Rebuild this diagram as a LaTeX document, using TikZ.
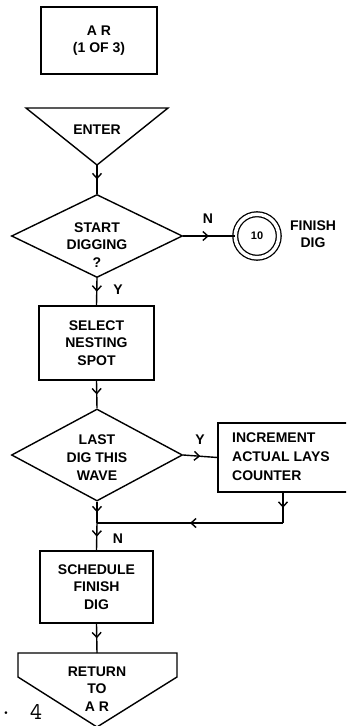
\documentclass[tikz,border=0pt]{standalone}
\usepackage{fontspec}
\usepackage{tikz}
\usetikzlibrary{shapes.geometric,arrows.meta,decorations.markings}
\setmainfont{Liberation Sans}

\tikzset{
  lab/.style={font=\bfseries\fontsize{14}{17.5}\selectfont, align=center, inner sep=0},
  box/.style={draw, line width=1.4pt, inner sep=0},
  dia/.style={draw, diamond, line width=1.4pt, inner sep=0},
  midarr/.style={line width=1.4pt, postaction={decorate},
    decoration={markings, mark=at position 0.5 with {\arrow{Straight Barb[length=5pt,width=9pt,line width=1.4pt]}}}},
}

\begin{document}
\begin{tikzpicture}[x=1pt,y=-1pt]
        \useasboundingbox (0,0) rectangle (346,726);
        \clip (0,0) rectangle (346,726);
        % 标题框
        \node[box, minimum width=116, minimum height=67] (ar) at (99,40.5) {};
        \node[lab] (artxt) at (ar) {A R\\(1 OF 3)};
        % 入口
        \draw[line width=1.4pt, line join=miter] (26,108)--(168,108)--(97,165)--cycle;
        \coordinate (enter) at (97,165);
        \node[lab] (entertxt) at (97,130) {ENTER};
        % 判断 1
        \node[dia, minimum width=171, minimum height=83] (start) at (97,236) {};
        \node[lab] (starttxt) at (97,245) {START\\DIGGING\\?};
        \node[draw, circle, double, double distance=3.5pt, line width=1.3pt,
              minimum size=43.5, inner sep=0] (fin) at (257,236) {};
        \node[lab, font=\bfseries\fontsize{11}{12}\selectfont] (fintxt) at (fin) {10};
        \node[lab] (findig) at (313,234) {FINISH\\DIG};
        \draw[midarr] (enter)--(start.north);
        \draw[midarr] (start.east)--(fin.west);
        \node[lab] (n1) at (208,219) {N};
        % 选择
        \node[box, minimum width=115, minimum height=74] (sel) at (96.5,343) {};
        \node[lab] (seltxt) at (sel) {SELECT\\NESTING\\SPOT};
        \draw[midarr] (start.south)--(sel.north);
        \node[lab] (y1) at (118,290) {Y};
        % 判断 2
        \node[dia, minimum width=171, minimum height=92] (last) at (97,455) {};
        \node[lab, font=\bfseries\fontsize{14}{18}\selectfont] (lasttxt) at (97,458) {LAST\\DIG THIS\\WAVE};
        \draw[midarr] (sel.south)--(last.north);
        % 计数
        \node[box, minimum width=142, minimum height=69] (incr) at (289,457.5) {};
        \node[lab, align=left, anchor=west, font=\bfseries\fontsize{14}{19}\selectfont] (incrtxt) at (232,457) {INCREMENT\\ACTUAL LAYS\\COUNTER};
        \draw[midarr] (last.east)--(incr.west);
        \node[lab] (y2) at (200,440) {Y};
        % 汇合点
        \coordinate (join) at (97,523);
        \coordinate (turn) at (283,523);
        \draw[midarr] (last.south)--(join);
        \draw[midarr] (incr.south -| turn)--(turn);
        \draw[midarr] (turn)--(join);
        % 安排
        \node[box, minimum width=113, minimum height=72] (sched) at (96.5,587) {};
        \node[lab] (schedtxt) at (sched) {SCHEDULE\\FINISH\\DIG};
        \draw[midarr] (join)--(sched.north);
        \node[lab] (n2) at (118,539) {N};
        % 返回
        \draw[line width=1.4pt, line join=miter] (18,653)--(177,653)--(177,677)--(97,727)--(18,677)--cycle;
        \coordinate (ret) at (97,653);
        \node[lab] (rettxt) at (97,689) {RETURN\\TO\\A R};
        \draw[midarr] (sched.south)--(ret);
        % 图号
        \node[inner sep=0, font=\ttfamily\fontsize{24}{24}\selectfont] (figdot) at (6,713) {.};
        \node[inner sep=0, font=\ttfamily\fontsize{24}{24}\selectfont] (fignum) at (36,712) {4};
    \end{tikzpicture}
\end{document}
